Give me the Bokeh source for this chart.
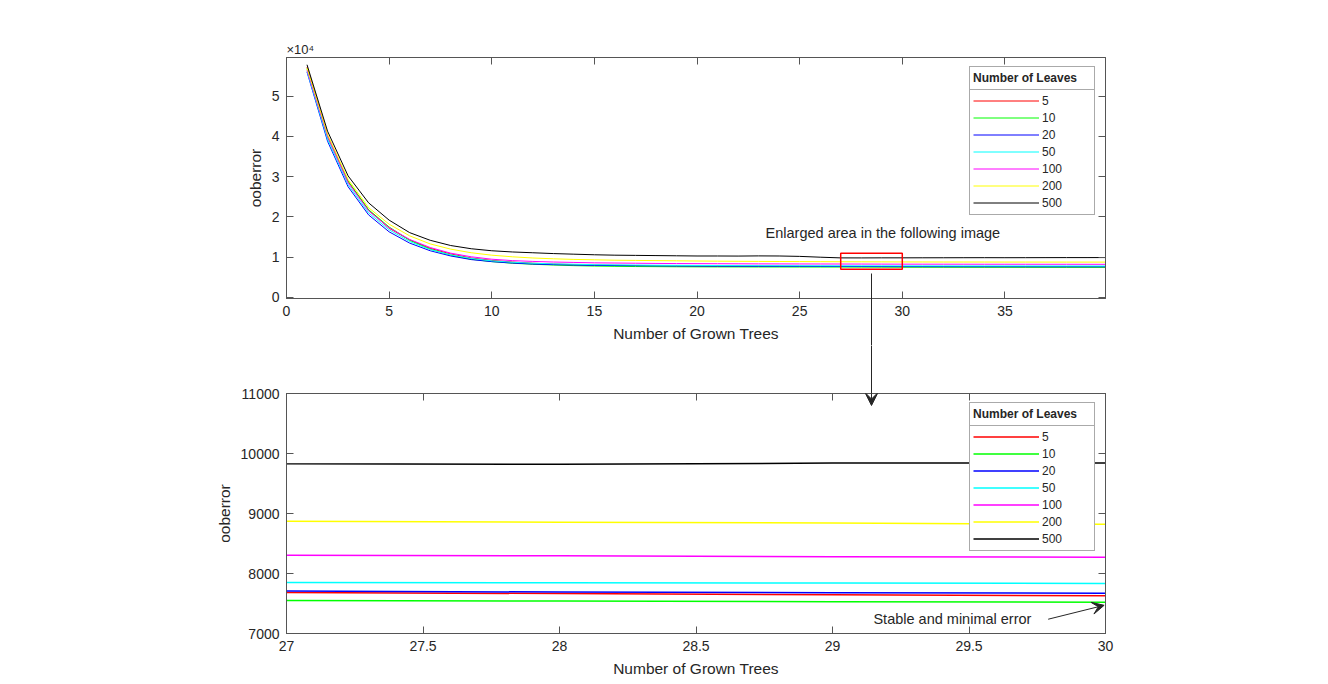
from bokeh.plotting import figure
from bokeh.models import (Range1d, LinearAxis, FixedTicker, Legend, LegendItem,
                          BoxAnnotation, Arrow, VeeHead, Label, NumeralTickFormatter)
from bokeh.layouts import column
from bokeh.embed import file_html
from bokeh.resources import INLINE

# ---------------- data ----------------
trees = list(range(1, 41))
leaf_counts = ["5", "10", "20", "50", "100", "200", "500"]

err_5 = [57200, 40200, 28800, 21700, 17200, 14300, 12200, 10800, 9800, 9200,
         8800, 8500, 8300, 8150, 8050, 7980, 7920, 7870, 7830, 7800,
         7780, 7760, 7740, 7725, 7710, 7695, 7685, 7665, 7645, 7630,
         7620, 7615, 7610, 7605, 7600, 7600, 7595, 7590, 7590, 7585]
err_10 = [56800, 39800, 28900, 21800, 17500, 14200, 12000, 10500, 9500, 8900,
          8500, 8250, 8050, 7900, 7800, 7730, 7680, 7650, 7620, 7600,
          7590, 7580, 7570, 7565, 7560, 7555, 7550, 7540, 7530, 7520,
          7515, 7510, 7505, 7500, 7500, 7495, 7490, 7490, 7485, 7480]
err_20 = [56000, 38800, 27500, 20500, 16300, 13500, 11600, 10300, 9400, 8900,
          8550, 8300, 8150, 8050, 7970, 7920, 7880, 7850, 7820, 7800,
          7780, 7760, 7745, 7735, 7725, 7715, 7710, 7690, 7680, 7670,
          7665, 7660, 7655, 7650, 7650, 7645, 7640, 7640, 7635, 7630]
err_50 = [56200, 39300, 28000, 21000, 16800, 13900, 11900, 10600, 9700, 9100,
          8750, 8500, 8350, 8250, 8150, 8100, 8050, 8000, 7970, 7950,
          7930, 7910, 7895, 7880, 7870, 7860, 7850, 7845, 7840, 7835,
          7830, 7825, 7820, 7820, 7815, 7815, 7810, 7810, 7805, 7800]
err_100 = [56500, 40000, 28500, 21500, 17300, 14400, 12400, 11000, 10100, 9500,
           9150, 8950, 8800, 8700, 8600, 8550, 8500, 8450, 8420, 8400,
           8380, 8360, 8340, 8330, 8320, 8310, 8305, 8295, 8280, 8270,
           8265, 8260, 8255, 8250, 8250, 8245, 8240, 8240, 8235, 8230]
err_200 = [57000, 40500, 29300, 22300, 18200, 15300, 13300, 12000, 11100, 10500,
           10100, 9800, 9600, 9450, 9350, 9250, 9200, 9150, 9100, 9050,
           9010, 8980, 8950, 8930, 8910, 8890, 8870, 8855, 8840, 8820,
           8810, 8800, 8800, 8795, 8790, 8790, 8785, 8780, 8780, 8775]
err_500 = [57800, 41300, 30200, 23500, 19200, 16100, 14200, 12900, 12100, 11600,
           11300, 11100, 10900, 10750, 10600, 10500, 10450, 10400, 10350, 10300,
           10300, 10280, 10320, 10300, 10200, 10000, 9830, 9820, 9840, 9840,
           9850, 9860, 9870, 9880, 9870, 9880, 9890, 9900, 9900, 9910]

series = [err_5, err_10, err_20, err_50, err_100, err_200, err_500]

top_xticks = [0, 5, 10, 15, 20, 25, 30, 35]
top_yticks = [0, 10000, 20000, 30000, 40000, 50000]
top_ylabels = ["0", "1", "2", "3", "4", "5"]
zoom_xticks = [27, 27.5, 28, 28.5, 29, 29.5, 30]
zoom_yticks = [7000, 8000, 9000, 10000, 11000]

# ---------------- styles ----------------
line_colors = ["#ff0000", "#00ff00", "#0000ff", "#00ffff", "#ff00ff", "#ffff00", "#000000"]
FONT = "Liberation Sans"
TXT = "#262626"
AX = "#555555"

top_x = (0, 39.9)
top_y = (-260, 59600)
zoom_x = (27, 30)
zoom_y = (7000, 11000)

# x of the connecting arrow (centre of the enlarged box), and the same screen column in the zoom plot
arrow_x_top = (zoom_x[0] + zoom_x[1]) / 2
arrow_x_bot = zoom_x[0] + (arrow_x_top - top_x[0]) / (top_x[1] - top_x[0]) * (zoom_x[1] - zoom_x[0])

SHAFT = 60       # shaft length below the top axes (clipped by the canvas edge)
TOP_GAP2 = 48    # space above the frame of the zoom plot


def make_fig(height, xr, yr, btop, bbot):
    p = figure(width=1320, height=height, x_range=Range1d(*xr), y_range=Range1d(*yr),
               output_backend="svg", toolbar_location=None,
               min_border_left=286, min_border_right=215,
               min_border_top=btop, min_border_bottom=bbot)
    p.xgrid.visible = False
    p.ygrid.visible = False
    p.outline_line_color = AX
    p.outline_line_width = 1
    return p


def style_axes(p, xticks, yticks, yfmt=None, below_minor=None, above_minor=None):
    p.xaxis.ticker = FixedTicker(ticks=xticks, minor_ticks=below_minor or [])
    p.yaxis.ticker = FixedTicker(ticks=yticks)
    p.add_layout(LinearAxis(ticker=FixedTicker(ticks=xticks, minor_ticks=above_minor or [])), "above")
    p.add_layout(LinearAxis(ticker=FixedTicker(ticks=yticks)), "right")
    for ax in p.xaxis + p.yaxis:
        ax.major_tick_in = 7
        ax.major_tick_out = 0
        ax.minor_tick_line_color = None
        ax.minor_tick_in = 0
        ax.minor_tick_out = 0
        ax.axis_line_color = AX
        ax.major_tick_line_color = AX
        ax.major_label_text_font = FONT
        ax.major_label_text_font_size = "14px"
        ax.major_label_text_color = TXT
        ax.major_label_standoff = 7
        ax.axis_label_text_font = FONT
        ax.axis_label_text_font_size = "15.5px"
        ax.axis_label_text_font_style = "normal"
        ax.axis_label_text_color = TXT
        ax.axis_label_standoff = 5
    for ax in p.above + p.right:
        ax.major_label_text_color = None
        ax.major_label_text_font_size = "1px"
        ax.major_label_standoff = 0
    p.below[0].axis_label = "Number of Grown Trees"
    p.below[0].axis_label_standoff = 6
    p.left[0].axis_label = "ooberror"
    p.below[0].formatter = NumeralTickFormatter(format="0.[0]")
    if yfmt is not None:
        p.left[0].major_label_overrides = yfmt


def add_lines_and_legend(p, lw, frame_bottom_gap):
    items = []
    for lab, ys, col in zip(leaf_counts, series, line_colors):
        r = p.line(trees, ys, line_color=col, line_width=lw)
        items.append(LegendItem(label=lab, renderers=[r]))
    dummy = p.line(trees, series[-1], line_alpha=0)
    main = Legend(items=items, location=(683, frame_bottom_gap), orientation="vertical",
                  padding=3, spacing=0, margin=0, glyph_width=66, glyph_height=17,
                  label_height=17, label_width=49, label_standoff=3,
                  label_text_font=FONT, label_text_font_size="12px", label_text_color=TXT,
                  border_line_color=AX, border_line_width=1, background_fill_color="white",
                  background_fill_alpha=1)
    header = Legend(items=[LegendItem(label="Number of Leaves", renderers=[dummy])],
                    location=(683, frame_bottom_gap + 125), orientation="vertical",
                    padding=3, spacing=0, margin=0, glyph_width=0, glyph_height=16,
                    label_height=16, label_width=118, label_standoff=0,
                    label_text_font=FONT, label_text_font_size="12px",
                    label_text_font_style="bold", label_text_color=TXT,
                    border_line_color=AX, border_line_width=1, background_fill_color="white",
                    background_fill_alpha=1)
    p.add_layout(main)
    p.add_layout(header)


# ---------------- top figure ----------------
p1 = make_fig(345, top_x, top_y, 57, 47)
style_axes(p1, top_xticks, top_yticks, dict(zip(top_yticks, top_ylabels)),
           below_minor=[arrow_x_top])
add_lines_and_legend(p1, 1, 83)

# exponent label above the axes
p1.title.text = "×10⁴"
p1.title.align = "left"
p1.title.text_font = FONT
p1.title.text_font_size = "13px"
p1.title.text_font_style = "normal"
p1.title.text_color = TXT
p1.title.standoff = 1

# enlarged area box (same limits as the zoom figure)
p1.add_layout(BoxAnnotation(left=zoom_x[0], right=zoom_x[1], bottom=zoom_y[0], top=zoom_y[1],
                            fill_alpha=0, line_color="#ff0000", line_alpha=1, line_width=1.5))
p1.add_layout(Label(x=23.34, y=15900, text="Enlarged area in the following image",
                    text_font=FONT, text_font_size="14.5px", text_color=TXT,
                    text_baseline="middle"))

# connecting arrow: shaft drawn as a long minor tick crossing the gap between the two axes
ax_b = p1.below[0]
ax_b.minor_tick_line_color = TXT
ax_b.minor_tick_line_width = 1
ax_b.minor_tick_in = 25
ax_b.minor_tick_out = SHAFT
ax_b.major_label_standoff = 7 - SHAFT   # keep tick labels where they belong

# ---------------- bottom figure ----------------
p2 = make_fig(335, zoom_x, zoom_y, TOP_GAP2, 47)
style_axes(p2, zoom_xticks, zoom_yticks, above_minor=[arrow_x_bot])
p2.left[0].formatter = NumeralTickFormatter(format="0")
add_lines_and_legend(p2, 1.5, 82)

ax_a = p2.above[0]
ax_a.minor_tick_line_color = TXT
ax_a.minor_tick_line_width = 1
ax_a.minor_tick_in = 0
ax_a.minor_tick_out = TOP_GAP2

span_y = zoom_y[1] - zoom_y[0]
p2.add_layout(Arrow(x_start=arrow_x_bot, y_start=zoom_y[1],
                    x_end=arrow_x_bot, y_end=zoom_y[1] - span_y * 0.05,
                    end=VeeHead(size=13, fill_color=TXT, line_color=TXT),
                    line_color=TXT, line_width=1))

p2.add_layout(Label(x=29.15, y=7238, text="Stable and minimal error",
                    text_font=FONT, text_font_size="14.5px", text_color=TXT,
                    text_baseline="middle"))
p2.add_layout(Arrow(x_start=29.79, y_start=7238, x_end=29.995, y_end=7470,
                    end=VeeHead(size=12, fill_color=TXT, line_color=TXT),
                    line_color=TXT, line_width=1))

layout = column(p1, p2, spacing=0)
open("out.html", "w").write(file_html(layout, INLINE))
